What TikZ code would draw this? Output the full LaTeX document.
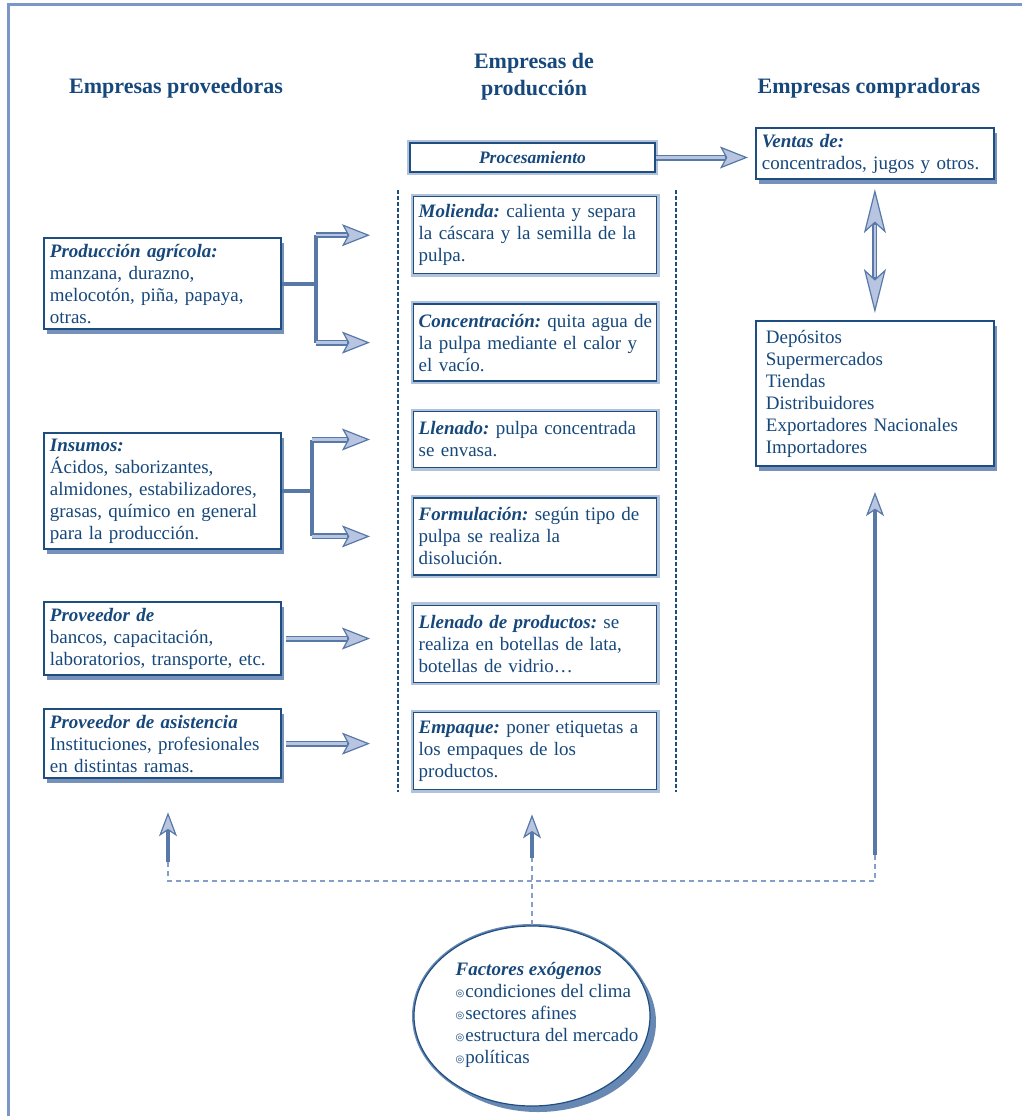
\documentclass[tikz,border=0pt]{standalone}
\usepackage{fontspec}
\setmainfont{Liberation Serif}
\newfontfamily\symbfont{DejaVu Sans}
\usepackage{tikz}
\usetikzlibrary{arrows.meta, positioning, shapes.geometric, shadows}

\definecolor{inkblue}{RGB}{22,72,124}
\definecolor{boxline}{RGB}{30,78,128}
\definecolor{shadeblue}{RGB}{118,146,186}
\definecolor{haloblue}{RGB}{176,194,220}
\definecolor{arrowdark}{RGB}{88,120,168}
\definecolor{arrowlight}{RGB}{184,197,224}
\definecolor{frameblue}{RGB}{124,150,198}
\definecolor{dashblue}{RGB}{134,158,202}
\definecolor{ringblue}{RGB}{104,136,180}

\tikzset{
  heading/.style={font=\fontsize{22}{27}\selectfont\bfseries, text=inkblue, align=center},
  supplier/.style={rectangle, draw=boxline, line width=1.8pt, fill=white, text=inkblue,
    text width=225pt, align=left, inner xsep=6pt, inner ysep=6pt, anchor=north west,
    font=\fontsize{19}{22}\selectfont,
    general shadow={shadow xshift=3pt, shadow yshift=-5pt, fill=shadeblue}},
  buyer/.style={supplier, text width=226pt},
  stage/.style={rectangle, draw=boxline, line width=1.4pt, fill=white, text=inkblue,
    text width=233pt, align=left, inner xsep=5pt, inner ysep=5pt, minimum height=77pt,
    font=\fontsize{19}{22}\selectfont, preaction={draw=haloblue, line width=6pt}},
  process/.style={stage, minimum width=245pt, minimum height=29pt, text width=, align=center,
    font=\fontsize{17.5}{20}\selectfont},
  exogen/.style={ellipse, draw=boxline, line width=1.2pt, fill=white,
    minimum width=236pt, minimum height=180pt, inner sep=0pt,
    preaction={draw=ringblue, line width=4pt},
    general shadow={shadow xshift=6pt, shadow yshift=-6pt, fill=ringblue}},
  exotext/.style={text=inkblue, align=left, inner sep=0pt, font=\fontsize{19}{22}\selectfont},
  flow/.style={draw=arrowdark, line width=6pt,
    -{Stealth[length=28pt, width=22pt, inset=6pt, line width=1.2pt, fill=arrowlight]},
    shorten >=#1,
    postaction={draw=arrowlight, line width=2.4pt, shorten >=#1+23pt, -}},
  flow/.default=0pt,
  twoway/.style={draw=arrowdark, line width=5pt,
    {Stealth[length=44pt, width=22pt, inset=10pt, line width=1.2pt, fill=arrowlight]}-{Stealth[length=44pt, width=22pt, inset=10pt, line width=1.2pt, fill=arrowlight]},
    shorten <=9pt, shorten >=7pt,
    postaction={draw=arrowlight, line width=1.8pt, shorten <=45pt, shorten >=43pt, -}},
  lift/.style={draw=arrowdark, line width=4pt,
    -{Stealth[length=24pt, width=18pt, inset=6pt, line width=1.2pt, fill=arrowlight]}},
  branch/.style={draw=arrowdark, line width=4pt},
  colline/.style={draw=boxline, line width=1.6pt, dash pattern=on 4pt off 2pt},
  exo/.style={draw=dashblue, line width=1.5pt, dash pattern=on 5pt off 4pt},
  frame/.style={draw=frameblue, line width=3pt},
}
\newcommand{\lead}[1]{{\bfseries\itshape #1}}
\newcommand{\bul}{{\symbfont\fontsize{10}{10}\selectfont\raisebox{1.5pt}{◎}}\kern1pt}

\begin{document}
\frenchspacing
\begin{tikzpicture}[x=1pt, y=-1pt, node distance=29pt]
  \useasboundingbox (0,0) rectangle (1022,1116);
  \draw[frame] (8,1116) -- (8,5) -- (1022,5);

  % column headings
  \node[heading] (hprov) at (176,88) {Empresas proveedoras};
  \node[heading] (hprod) at (534,77) {Empresas de\\producción};
  \node[heading] (hcomp) at (869,88) {Empresas compradoras};

  % production column
  \node[process] (proc) at (532.5,157.5) {\lead{Procesamiento}};
  \node[stage, anchor=north west] (molienda) at (413,196) {\lead{Molienda:} calienta y separa\\la cáscara y la semilla de la\\pulpa.};
  \node[stage, below=of molienda] (concentracion) {\mbox{\lead{Concentración:} quita agua de}\\la pulpa mediante el calor y\\el vacío.};
  \node[stage, below=of concentracion, minimum height=56pt] (llenado) {\lead{Llenado:} pulpa concentrada\\se envasa.};
  \node[stage, below=of llenado] (formulacion) {\lead{Formulación:} según tipo de\\pulpa se realiza la\\disolución.};
  \node[stage, below=of formulacion] (llenadoprod) {\lead{Llenado de productos:} se\\realiza en botellas de lata,\\botellas de vidrio\dots};
  \node[stage, below=of llenadoprod] (empaque) {\lead{Empaque:} poner etiquetas a\\los empaques de los\\productos.};
  \draw[colline] (398,190) -- (398,792);
  \draw[colline] (676,190) -- (676,792);

  % suppliers
  \node[supplier] (agricola) at (43,237) {\lead{Producción agrícola:}\\manzana, durazno,\\melocotón, piña, papaya,\\otras.};
  \node[supplier] (insumos) at (43,432) {\lead{Insumos:}\\Ácidos, saborizantes,\\almidones, estabilizadores,\\grasas, químico en general\\para la producción.};
  \node[supplier] (bancos) at (43,601) {\lead{Proveedor de}\\bancos, capacitación,\\laboratorios, transporte, etc.};
  \node[supplier] (asistencia) at (43,708) {\lead{Proveedor de asistencia}\\Instituciones, profesionales\\en distintas ramas.};

  % buyers
  \node[buyer] (ventas) at (755,127) {\lead{Ventas de:}\\concentrados, jugos y otros.};
  \node[buyer, inner xsep=10pt, inner ysep=9pt, text width=218pt] (canales) at (755,320) {Depósitos\\Supermercados\\Tiendas\\Distribuidores\\Exportadores Nacionales\\Importadores};

  % exogenous factors
  \node[exogen] (factores) at (532,1016) {};
  \node[exotext] (factlista) at (547,1015) {\lead{Factores exógenos}\\\bul condiciones del clima\\\bul sectores afines\\\bul estructura del mercado\\\bul políticas};

  \coordinate (lbase) at (168,862);
  \coordinate (mbase) at (532,858);
  \coordinate (rbase) at (875,855);
  \coordinate (dl) at (168,881);
  \coordinate (dr) at (875,881);

  \draw[branch] (agricola.east) -- ++(34,0) coordinate (ja);
  \draw[branch] (ja |- molienda) -- (ja |- concentracion);
  \draw[flow=43pt] (ja |- molienda) -- (molienda);
  \draw[flow=43pt] (ja |- concentracion) -- (concentracion);

  \draw[branch] (insumos.east) -- ++(30,0) coordinate (jb);
  \draw[branch] (jb |- llenado) -- (jb |- formulacion);
  \draw[flow=43pt] (jb |- llenado) -- (llenado);
  \draw[flow=43pt] (jb |- formulacion) -- (formulacion);

  \draw[flow=43pt] ([xshift=4pt]bancos.east) -- (bancos.east -| llenadoprod.west);
  \draw[flow=43pt] ([xshift=4pt]asistencia.east) -- (asistencia.east -| empaque.west);

  \draw[flow=7pt] (proc.east) -- (proc.east -| ventas.west);
  \draw[twoway] (ventas) -- (canales);
  \draw[lift, shorten >=25pt] (rbase) -- (rbase |- canales.south);

  \draw[lift, shorten >=33pt] (lbase) -- (lbase |- asistencia.south);
  \draw[lift, shorten >=24pt] (mbase) -- (mbase |- empaque.south);
  \draw[exo] (lbase) -- (dl) -- (dr) -- (rbase);
  \draw[exo] (factores.north) -- (mbase);
\end{tikzpicture}
\end{document}
